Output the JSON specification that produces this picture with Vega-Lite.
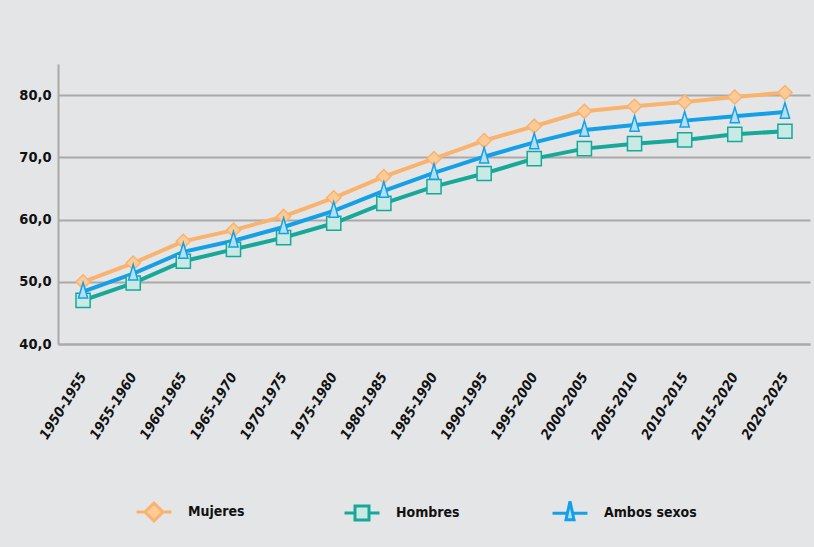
{
  "$schema": "https://vega.github.io/schema/vega-lite/v6.json",
  "width": 752,
  "height": 280,
  "autosize": {"type": "none"},
  "padding": {"left": 58, "top": 64, "right": 4, "bottom": 203},
  "background": "#e4e5e7",
  "config": {"view": {"stroke": null}, "font": "DejaVu Sans Condensed, Liberation Sans, sans-serif"},
  "data": {
    "values": [
      {"periodo": "1950-1955", "serie": "Mujeres", "valor": 50.0},
      {"periodo": "1955-1960", "serie": "Mujeres", "valor": 53.0},
      {"periodo": "1960-1965", "serie": "Mujeres", "valor": 56.5},
      {"periodo": "1965-1970", "serie": "Mujeres", "valor": 58.3},
      {"periodo": "1970-1975", "serie": "Mujeres", "valor": 60.5},
      {"periodo": "1975-1980", "serie": "Mujeres", "valor": 63.5},
      {"periodo": "1980-1985", "serie": "Mujeres", "valor": 66.9},
      {"periodo": "1985-1990", "serie": "Mujeres", "valor": 69.8},
      {"periodo": "1990-1995", "serie": "Mujeres", "valor": 72.7},
      {"periodo": "1995-2000", "serie": "Mujeres", "valor": 75.0},
      {"periodo": "2000-2005", "serie": "Mujeres", "valor": 77.4},
      {"periodo": "2005-2010", "serie": "Mujeres", "valor": 78.2},
      {"periodo": "2010-2015", "serie": "Mujeres", "valor": 78.9},
      {"periodo": "2015-2020", "serie": "Mujeres", "valor": 79.7},
      {"periodo": "2020-2025", "serie": "Mujeres", "valor": 80.4},
      {"periodo": "1950-1955", "serie": "Hombres", "valor": 47.0},
      {"periodo": "1955-1960", "serie": "Hombres", "valor": 49.8},
      {"periodo": "1960-1965", "serie": "Hombres", "valor": 53.3},
      {"periodo": "1965-1970", "serie": "Hombres", "valor": 55.2},
      {"periodo": "1970-1975", "serie": "Hombres", "valor": 57.1},
      {"periodo": "1975-1980", "serie": "Hombres", "valor": 59.4},
      {"periodo": "1980-1985", "serie": "Hombres", "valor": 62.6},
      {"periodo": "1985-1990", "serie": "Hombres", "valor": 65.3},
      {"periodo": "1990-1995", "serie": "Hombres", "valor": 67.4},
      {"periodo": "1995-2000", "serie": "Hombres", "valor": 69.8},
      {"periodo": "2000-2005", "serie": "Hombres", "valor": 71.4},
      {"periodo": "2005-2010", "serie": "Hombres", "valor": 72.2},
      {"periodo": "2010-2015", "serie": "Hombres", "valor": 72.8},
      {"periodo": "2015-2020", "serie": "Hombres", "valor": 73.7},
      {"periodo": "2020-2025", "serie": "Hombres", "valor": 74.2},
      {"periodo": "1950-1955", "serie": "Ambos sexos", "valor": 48.4},
      {"periodo": "1955-1960", "serie": "Ambos sexos", "valor": 51.3},
      {"periodo": "1960-1965", "serie": "Ambos sexos", "valor": 54.8},
      {"periodo": "1965-1970", "serie": "Ambos sexos", "valor": 56.6},
      {"periodo": "1970-1975", "serie": "Ambos sexos", "valor": 58.8},
      {"periodo": "1975-1980", "serie": "Ambos sexos", "valor": 61.4},
      {"periodo": "1980-1985", "serie": "Ambos sexos", "valor": 64.6},
      {"periodo": "1985-1990", "serie": "Ambos sexos", "valor": 67.5},
      {"periodo": "1990-1995", "serie": "Ambos sexos", "valor": 70.1},
      {"periodo": "1995-2000", "serie": "Ambos sexos", "valor": 72.4},
      {"periodo": "2000-2005", "serie": "Ambos sexos", "valor": 74.4},
      {"periodo": "2005-2010", "serie": "Ambos sexos", "valor": 75.2},
      {"periodo": "2010-2015", "serie": "Ambos sexos", "valor": 75.9},
      {"periodo": "2015-2020", "serie": "Ambos sexos", "valor": 76.6},
      {"periodo": "2020-2025", "serie": "Ambos sexos", "valor": 77.3}
    ]
  },
  "encoding": {
    "x": {
      "field": "periodo",
      "type": "ordinal",
      "sort": null,
      "scale": {"type": "point", "padding": 0.5},
      "axis": {
        "title": null,
        "ticks": false,
        "grid": false,
        "domainColor": "#a9a9a9",
        "domainWidth": 2,
        "labelAngle": -58,
        "labelAlign": "right",
        "labelBaseline": "middle",
        "labelFontStyle": "italic",
        "labelFontWeight": "bold",
        "labelFontSize": 14,
        "labelColor": "#111111",
        "labelPadding": 30
      }
    },
    "y": {
      "field": "valor",
      "type": "quantitative",
      "scale": {"domain": [40, 85], "nice": false, "zero": false},
      "axis": {
        "title": null,
        "values": [40, 50, 60, 70, 80],
        "labelExpr": "replace(format(datum.value, '.1f'), '.', ',')",
        "ticks": false,
        "grid": true,
        "gridColor": "#a9a9a9",
        "gridWidth": 2,
        "domainColor": "#a9a9a9",
        "domainWidth": 2,
        "labelFontWeight": "bold",
        "labelFontSize": 14.5,
        "labelColor": "#111111",
        "labelPadding": 7
      }
    }
  },
  "layer": [
    {
      "mark": {"type": "line", "strokeWidth": 4},
      "encoding": {
        "color": {
          "field": "serie",
          "type": "nominal",
          "scale": {"domain": ["Mujeres", "Hombres", "Ambos sexos"], "range": ["#f9b36e", "#16a99a", "#14a0e6"]},
          "legend": {
            "title": null,
            "orient": "none",
            "legendX": 89,
            "legendY": 441,
            "direction": "horizontal",
            "columns": 3,
            "gridAlign": "all",
            "columnPadding": 57,
            "padding": 0,
            "symbolSize": 100,
            "symbolType": "circle",
            "labelOffset": 27,
            "labelFontWeight": "bold",
            "labelFontSize": 14,
            "labelColor": "#111111",
            "encode": {
              "symbols": {
                "update": {
                  "shape": {"signal": "datum.value === 'Mujeres' ? 'M-3.5,0H-1.8M1.8,0H3.5M0,-1.8L1.8,0L0,1.8L-1.8,0Z' : datum.value === 'Hombres' ? 'M-3.5,0H-1.4M1.4,0H3.5M-1.4,-1.4H1.4V1.4H-1.4Z' : 'M-3.5,0H-0.5M0.5,0H3.5M0,-2.4L0.8,1.3L-0.8,1.3Z'"},
                  "fill": {"signal": "datum.value === 'Mujeres' ? '#fccb98' : datum.value === 'Hombres' ? '#c9e9e5' : '#b3e0f7'"},
                  "stroke": {"signal": "datum.value === 'Mujeres' ? '#f9b36e' : datum.value === 'Hombres' ? '#16a99a' : '#14a0e6'"},
                  "size": {"value": 100},
                  "fillOpacity": {"value": 1},
                  "strokeOpacity": {"value": 1},
                  "opacity": {"value": 1},
                  "strokeWidth": {"value": 3}
                }
              }
            }
          }
        }
      }
    },
    {
      "transform": [{"filter": "datum.serie === 'Mujeres'"}],
      "mark": {"type": "point", "filled": true, "size": 200, "strokeWidth": 1.5, "opacity": 1, "shape": "M0,-1L1,0L0,1L-1,0Z", "fill": "#fccb98", "stroke": "#f9b36e"}
    },
    {
      "transform": [{"filter": "datum.serie === 'Hombres'"}],
      "mark": {"type": "point", "filled": true, "size": 200, "strokeWidth": 1.5, "opacity": 1, "shape": "M-1,-1H1V1H-1Z", "fill": "#c9e9e5", "stroke": "#16a99a"}
    },
    {
      "transform": [{"filter": "datum.serie === 'Ambos sexos'"}],
      "mark": {"type": "point", "filled": true, "size": 200, "strokeWidth": 1.5, "opacity": 1, "shape": "M0,-1.3L0.65,0.9L-0.65,0.9Z", "fill": "#b3e0f7", "stroke": "#14a0e6"}
    }
  ]
}
